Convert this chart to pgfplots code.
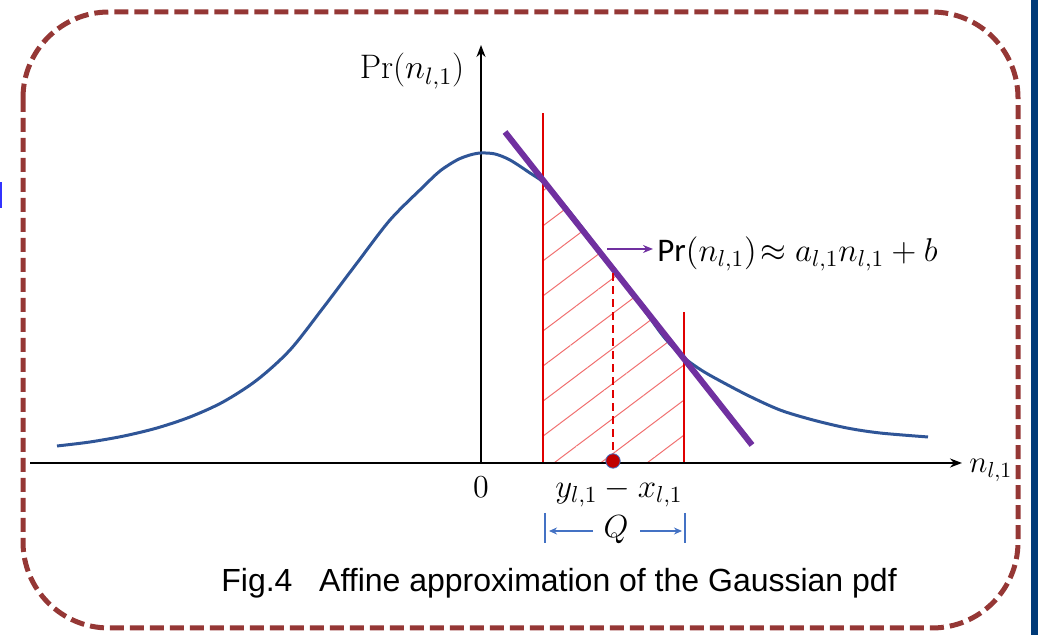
\RequirePackage{fix-cm}
\documentclass[border=0pt]{standalone}
\usepackage[no-math]{fontspec}
\usepackage{pgfplots}
\pgfplotsset{compat=1.18}
\usetikzlibrary{arrows.meta,patterns.meta}
\newfontfamily\arial{Liberation Sans}
\newfontfamily\calibri{Carlito}
\definecolor{curveblue}{HTML}{2F5597}
\definecolor{lilac}{HTML}{7030A0}
\definecolor{redline}{HTML}{E00000}
\definecolor{hatch}{HTML}{F07070}
\definecolor{border}{HTML}{953735}
\definecolor{qblue}{HTML}{4472C4}
\definecolor{navy}{HTML}{003A78}
\definecolor{dotred}{HTML}{C00000}

\begin{document}
\begin{tikzpicture}
  % 1 unit = 1 px of the reference, origin at the crossing of the axes
  \begin{axis}[scale only axis, width=519pt, height=317.5pt,
               xmin=-481, xmax=557, ymin=-172, ymax=463,
               axis lines=none, clip=false]
    \coordinate (bl) at (rel axis cs:0,0);
    \coordinate (tr) at (rel axis cs:1,1);

    % frame, side bar, clipped glyph
    \fill[navy] (axis cs:550,463) rectangle (axis cs:557,-172);
    \fill[blue!80!white] (axis cs:-481,281) rectangle (axis cs:-479,255);
    \draw[border, line width=2.5pt, dash pattern=on 7pt off 3pt, rounded corners=43pt]
      (axis cs:-458,451) rectangle (axis cs:537,-165);

    % hatched area
    \addplot[draw=none, pattern={Lines[angle=37,distance=14pt,line width=0.5pt]},
             pattern color=hatch]
      coordinates {(62,0) (62,281) (203,102) (203,0)} \closedcycle;

    % red bounds
    \addplot[redline, line width=0.8pt] coordinates {(62,0) (62,350)};
    \addplot[redline, line width=0.8pt] coordinates {(203,0) (203,151)};

    % axes
    \draw[line width=1pt, -{Stealth[length=6pt,width=4.5pt]}] (axis cs:-451,0) -- (axis cs:481,0);
    \draw[line width=0.8pt, -{Stealth[length=6pt,width=4.5pt]}] (axis cs:0,0) -- (axis cs:0,418);

    % pdf
    \addplot[curveblue, line width=1.5pt, smooth, tension=0.5] coordinates {
      (-424,17) (-391,21) (-357,27) (-324,35) (-291,46) (-258,61)
      (-224,83) (-191,113) (-158,155) (-124,200) (-91,243) (-58,276)
      (-41,292) (-24,303) (-11,308) (0,310) (14,309) (29,303) (49,290)
      (62,281) (79,263) (99,238) (119,212) (139,186) (159,159) (179,131)
      (189,119) (202,106) (217,95) (232,86) (266,68) (299,53) (332,43)
      (366,35) (399,30) (447,26)};

    % affine approximation
    \addplot[lilac, line width=3pt] coordinates {(24,331) (271,18)};

    % y - x
    \addplot[redline, line width=0.8pt, dash pattern=on 4pt off 2.5pt] coordinates {(132,0) (132,195)};
    \addplot[only marks, mark=*, mark size=3.6pt,
             mark options={fill=dotred, draw=qblue, line width=0.4pt}]
      coordinates {(132,2)};

    % annotation arrow
    \draw[lilac, line width=0.8pt, -{Stealth[length=5pt,width=4pt]}] (axis cs:126,214) -- (axis cs:172,214);
    \node[anchor=base west, inner sep=0pt] at (axis cs:176,201)
      {\fontsize{16.5}{19}\selectfont{\calibri Pr}$(n_{l,1})\!\approx a_{l,1}n_{l,1}+b$};

    % labels
    \node[anchor=base, inner sep=0pt] at (axis cs:-69,384)
      {\fontsize{17}{19}\selectfont$\mathrm{Pr}(n_{l,1})$};
    \node[anchor=base, inner sep=0pt] at (axis cs:0,-35)
      {\fontsize{16}{19}\selectfont$0$};
    \node[anchor=base, inner sep=0pt] at (axis cs:138,-35)
      {\fontsize{16.5}{19}\selectfont$y_{l,1}-x_{l,1}$};
    \node[anchor=base west, inner sep=0pt] at (axis cs:488,-10)
      {\fontsize{15.5}{19}\selectfont$n_{l,1}$};

    % Q bracket
    \draw[qblue, line width=0.8pt] (axis cs:64,-50) -- (axis cs:64,-80);
    \draw[qblue, line width=0.8pt] (axis cs:204,-50) -- (axis cs:204,-80);
    \draw[qblue, line width=0.8pt, -{Stealth[length=4pt,width=3.5pt]}] (axis cs:112,-68) -- (axis cs:68,-68);
    \draw[qblue, line width=0.8pt, -{Stealth[length=4pt,width=3.5pt]}] (axis cs:159,-68) -- (axis cs:201,-68);
    \node[anchor=base, inner sep=0pt] at (axis cs:135,-75)
      {\fontsize{16}{19}\selectfont$Q$};

    % caption
    \node[anchor=base west, inner sep=0pt] at (axis cs:-260,-129)
      {\fontsize{16}{19}\selectfont\arial Fig.4\ \ \ Affine approximation of the Gaussian pdf};
  \end{axis}
  \pgfresetboundingbox
  \useasboundingbox (bl) rectangle (tr);
\end{tikzpicture}
\end{document}
